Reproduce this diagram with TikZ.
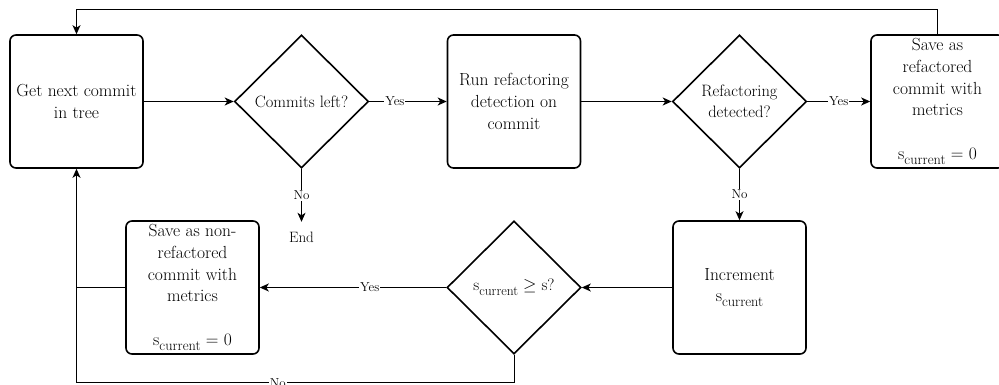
\documentclass[tikz,border=0pt]{standalone}
\usepackage{graphicx}
\usetikzlibrary{shapes.geometric,arrows.meta}

% s with the lowered "current" index
\newcommand{\scurrent}{s\raisebox{-0.28em}{\scalebox{0.82}{current}}}

\tikzset{
  stepbox/.style={draw, rounded corners=6pt, line width=1.6pt,
    minimum width=133pt, minimum height=133pt, align=center, inner sep=2pt,
    font=\fontsize{17.5}{21.6}\selectfont},
  decision/.style={draw, diamond, aspect=1, line width=1.6pt,
    minimum width=134pt, minimum height=133pt, align=center, inner sep=1pt,
    font=\fontsize{16.5}{21}\selectfont},
  flow/.style={line width=0.9pt, -{Stealth[length=9pt,width=8pt,inset=2.5pt]}},
  link/.style={line width=0.9pt},
  answer/.style={fill=white, inner sep=1pt, font=\fontsize{13}{15}\selectfont},
}

\begin{document}
\begin{tikzpicture}[x=1pt, y=-1pt]
    \useasboundingbox (0,0) rectangle (999,385);

    % Top row
    \node[stepbox] (getnext) at (76.5,101.5) {Get next commit\\in tree};
    \node[decision] (commitsleft) at (301.5,101.5) {Commits left?};
    \node[stepbox] (runref) at (514,101.5) {Run refactoring\\detection on\\commit};
    \node[decision] (refdetected) at (739.5,101.5) {Refactoring\\detected?};
    \node[stepbox] (saveref) at (937.5,101.5)
        {Save as\\refactored\\commit with\\metrics\\[22pt]\scurrent{} = 0};

    % End of the walk
    \node[minimum height=30pt, inner sep=1pt, font=\fontsize{15}{18}\selectfont]
        (finish) at (301.5,237) {End};

    % Bottom row
    \node[stepbox] (incr) at (739.5,287.5) {Increment\\\scurrent};
    \node[decision] (limit) at (514,287.5) {\scurrent{} $\geq$ s?};
    \node[stepbox] (savenon) at (192.5,287.5)
        {Save as non-\\refactored\\commit with\\metrics\\[22pt]\scurrent{} = 0};

    % Connectors
    \draw[flow] (getnext) -- (commitsleft);
    \draw[flow] (commitsleft) -- node[answer, pos=0.33] {Yes} (runref);
    \draw[flow] (commitsleft) -- node[answer] {No} (finish);
    \draw[flow] (runref) -- (refdetected);
    \draw[flow] (refdetected) -- node[answer] {Yes} (saveref);
    \draw[flow] (refdetected) -- node[answer] {No} (incr);
    \draw[flow] (incr) -- (limit);
    \draw[flow] (limit) -- node[answer, pos=0.41] {Yes} (savenon);

    % Loops back to the first step
    \draw[flow] (saveref.north) -- ++(0,-25) -| (getnext.north);
    \draw[flow] (limit.south) -- ++(0,28) -| node[answer, pos=0.27] {No} (getnext.south);
    \draw[link] (savenon.west) -- (savenon.west -| getnext.south);

\end{tikzpicture}
\end{document}
